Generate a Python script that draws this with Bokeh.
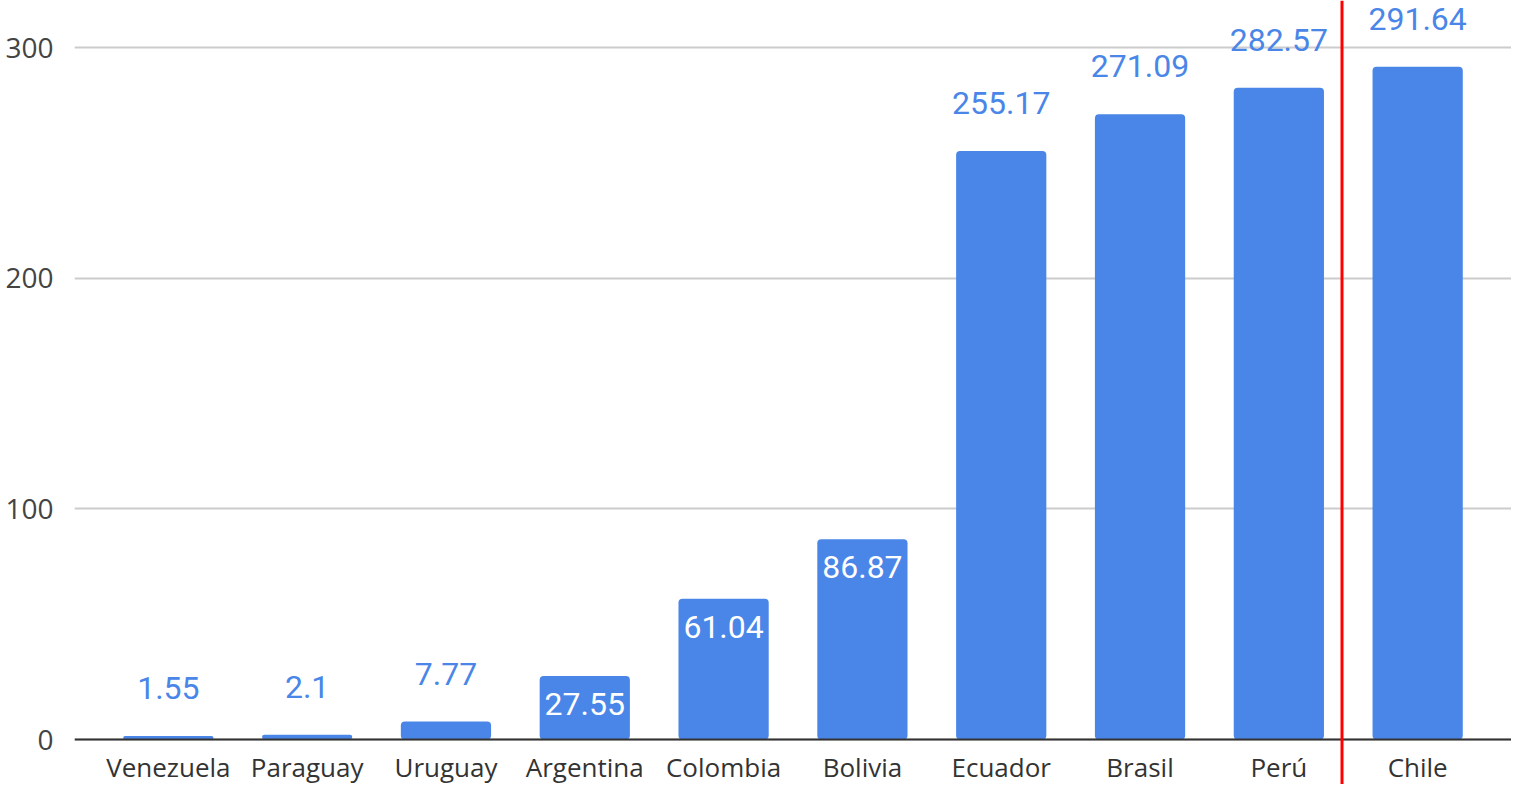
from bokeh.plotting import figure
from bokeh.models import ColumnDataSource, FactorRange, Range1d, Span, FixedTicker
from bokeh.embed import file_html
from bokeh.resources import INLINE
from bokeh.core.properties import value

countries = ["Venezuela", "Paraguay", "Uruguay", "Argentina", "Colombia",
             "Bolivia", "Ecuador", "Brasil", "Perú", "Chile"]
values = [1.55, 2.1, 7.77, 27.55, 61.04, 86.87, 255.17, 271.09, 282.57, 291.64]
label_inside = [False, False, False, True, True, True, False, False, False, False]
y_ticks = [0, 100, 200, 300]
marker_after = "Perú"   # red marker line sits between Perú and Chile

BAR = "#4a86e8"
TXT = "#333333"

bars = ColumnDataSource(dict(x=countries, top=values))
ins = [i for i, f in enumerate(label_inside) if f]
outs = [i for i, f in enumerate(label_inside) if not f]
inside_src = ColumnDataSource(dict(x=[countries[i] for i in ins], y=[values[i] for i in ins],
                                   text=[str(values[i]) for i in ins]))
outside_src = ColumnDataSource(dict(x=[countries[i] for i in outs], y=[values[i] for i in outs],
                                    text=[str(values[i]) for i in outs]))

p = figure(x_range=FactorRange(factors=countries, range_padding=0.0352),
           y_range=Range1d(-19.5, 320.4),
           width=1511, height=784, output_backend="svg", toolbar_location=None,
           min_border_left=74, min_border_right=0, min_border_top=0, min_border_bottom=0)
p.outline_line_color = None
p.background_fill_color = "white"

p.vbar(x="x", top="top", width=0.65, source=bars, fill_color=BAR, line_color=None,
       border_radius=4)

p.text(x="x", y="y", text="text", source=outside_src, text_color=BAR,
       text_font=value("Roboto"), text_font_size="32px", text_align="center",
       text_baseline="middle", y_offset=-48)
p.text(x="x", y="y", text="text", source=inside_src, text_color="white",
       text_font=value("Roboto"), text_font_size="32px", text_align="center",
       text_baseline="middle", y_offset=28)

p.xgrid.visible = False
p.ygrid.ticker = FixedTicker(ticks=y_ticks)
p.ygrid.grid_line_color = "#cccccc"
p.ygrid.grid_line_width = 2

p.yaxis.ticker = FixedTicker(ticks=y_ticks)
p.yaxis.axis_line_color = None
p.yaxis.major_tick_line_color = None
p.yaxis.minor_tick_line_color = None
p.yaxis.major_label_text_font = "Open Sans"
p.yaxis.major_label_text_font_size = "28px"
p.yaxis.major_label_text_color = "#444444"
p.yaxis.major_label_standoff = 15

p.xaxis.fixed_location = 0
p.xaxis.axis_line_color = TXT
p.xaxis.axis_line_width = 2
p.xaxis.major_tick_line_color = None
p.xaxis.minor_tick_line_color = None
p.xaxis.major_label_text_font = "Open Sans"
p.xaxis.major_label_text_font_size = "26px"
p.xaxis.major_label_text_color = TXT
p.xaxis.major_label_standoff = 3

loc = countries.index(marker_after) + 0.955
p.add_layout(Span(location=loc, dimension="height", line_color="#ff0000", line_width=3))

open("out.html", "w").write(file_html(p, INLINE))
